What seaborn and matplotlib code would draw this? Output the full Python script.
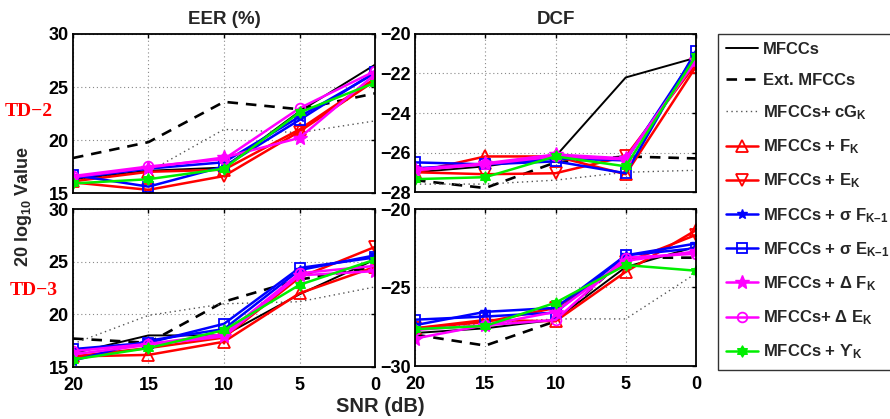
import numpy as np
import pandas as pd
import matplotlib
matplotlib.use("Agg")
import matplotlib.pyplot as plt
from matplotlib.path import Path
import seaborn as sns

snr = [20, 15, 10, 5, 0]

labels = [
    "MFCCs",
    "Ext. MFCCs",
    "MFCCs+ cG$_{K}$",
    "MFCCs + F$_{K}$",
    "MFCCs + E$_{K}$",
    "MFCCs + \u03c3 F$_{K\u20131}$",
    "MFCCs + \u03c3 E$_{K\u20131}$",
    "MFCCs + \u0394 F$_{K}$",
    "MFCCs+ \u0394 E$_{K}$",
    "MFCCs + \u03d2$_{K}$",
]

# EER (%), TD-2
eer_td2_mfcc = [16.3, 17.1, 17.4, 22.7, 27.1]
eer_td2_ext = [18.3, 19.8, 23.6, 22.9, 24.4]
eer_td2_cg = [16.2, 17.0, 21.0, 20.7, 21.8]
eer_td2_f = [16.1, 17.0, 17.2, 21.0, 25.8]
eer_td2_e = [16.0, 15.3, 16.6, 20.8, 25.6]
eer_td2_sf = [16.4, 17.3, 17.9, 22.2, 26.3]
eer_td2_se = [16.7, 15.6, 17.5, 21.9, 26.4]
eer_td2_df = [16.5, 17.4, 18.35, 20.2, 26.2]
eer_td2_de = [16.6, 17.5, 18.2, 23.0, 26.5]
eer_td2_u = [15.9, 16.3, 17.3, 22.6, 25.4]

# EER (%), TD-3
eer_td3_mfcc = [16.3, 18.0, 18.0, 21.9, 25.2]
eer_td3_ext = [17.7, 17.3, 21.2, 23.3, 24.5]
eer_td3_cg = [17.2, 19.9, 21.0, 21.2, 22.6]
eer_td3_f = [16.0, 16.15, 17.4, 22.0, 24.5]
eer_td3_e = [16.0, 16.8, 17.8, 23.5, 26.4]
eer_td3_sf = [15.6, 17.5, 18.6, 24.2, 25.6]
eer_td3_se = [16.7, 17.3, 19.1, 24.4, 25.4]
eer_td3_df = [16.2, 17.1, 17.9, 23.7, 24.1]
eer_td3_de = [16.5, 17.2, 18.1, 23.9, 24.6]
eer_td3_u = [15.7, 16.8, 18.5, 22.8, 25.2]

# DCF, TD-2
dcf_td2_mfcc = [-27.0, -26.7, -26.2, -22.2, -21.2]
dcf_td2_ext = [-27.4, -27.8, -26.5, -26.2, -26.3]
dcf_td2_cg = [-27.6, -27.6, -27.4, -27.0, -26.9]
dcf_td2_f = [-27.0, -26.2, -26.2, -27.1, -21.65]
dcf_td2_e = [-27.0, -27.1, -27.05, -26.2, -21.5]
dcf_td2_sf = [-26.8, -26.6, -26.3, -26.4, -21.0]
dcf_td2_se = [-26.5, -26.6, -26.45, -27.05, -20.85]
dcf_td2_df = [-26.85, -26.55, -26.1, -26.3, -21.3]
dcf_td2_de = [-26.9, -26.6, -26.2, -26.35, -21.35]
dcf_td2_u = [-27.35, -27.25, -26.2, -26.7, -21.1]

# DCF, TD-3
dcf_td3_mfcc = [-27.9, -27.6, -27.05, -23.7, -22.4]
dcf_td3_ext = [-28.0, -28.7, -27.15, -23.1, -23.1]
dcf_td3_cg = [-27.6, -27.3, -27.0, -27.0, -24.1]
dcf_td3_f = [-27.6, -27.07, -27.15, -24.0, -21.35]
dcf_td3_e = [-27.6, -27.2, -26.3, -23.4, -21.65]
dcf_td3_sf = [-27.4, -26.55, -26.3, -22.95, -22.2]
dcf_td3_se = [-27.05, -26.85, -26.6, -22.95, -22.5]
dcf_td3_df = [-28.25, -27.4, -26.55, -23.3, -22.7]
dcf_td3_de = [-27.7, -27.4, -27.07, -23.1, -22.85]
dcf_td3_u = [-27.65, -27.45, -25.97, -23.57, -23.93]

panels = {
    (0, 0): [eer_td2_mfcc, eer_td2_ext, eer_td2_cg, eer_td2_f, eer_td2_e,
             eer_td2_sf, eer_td2_se, eer_td2_df, eer_td2_de, eer_td2_u],
    (1, 0): [eer_td3_mfcc, eer_td3_ext, eer_td3_cg, eer_td3_f, eer_td3_e,
             eer_td3_sf, eer_td3_se, eer_td3_df, eer_td3_de, eer_td3_u],
    (0, 1): [dcf_td2_mfcc, dcf_td2_ext, dcf_td2_cg, dcf_td2_f, dcf_td2_e,
             dcf_td2_sf, dcf_td2_se, dcf_td2_df, dcf_td2_de, dcf_td2_u],
    (1, 1): [dcf_td3_mfcc, dcf_td3_ext, dcf_td3_cg, dcf_td3_f, dcf_td3_e,
             dcf_td3_sf, dcf_td3_se, dcf_td3_df, dcf_td3_de, dcf_td3_u],
}

# hexagram marker
ang_up = np.deg2rad([90, 210, 330, 90])
ang_dn = np.deg2rad([270, 30, 150, 270])
v1 = np.column_stack([np.cos(ang_up), np.sin(ang_up)])
v2 = np.column_stack([np.cos(ang_dn), np.sin(ang_dn)])
codes = [Path.MOVETO, Path.LINETO, Path.LINETO, Path.CLOSEPOLY]
hexagram = Path(np.vstack([v1, v2]), codes + codes)

styles = [
    dict(color="black", ls="-", lw=1.4, marker=None),
    dict(color="black", ls=(0, (4, 3)), lw=1.9, marker=None),
    dict(color="#555555", ls=(0, (1, 2.5)), lw=1.0, marker=None),
    dict(color="#ff0000", ls="-", lw=1.8, marker="^", mfc="none", ms=8, mew=1.3),
    dict(color="#ff0000", ls="-", lw=1.8, marker="v", mfc="none", ms=8, mew=1.3),
    dict(color="#0000ff", ls="-", lw=1.8, marker="*", mfc="#0000ff", ms=7, mew=1.0),
    dict(color="#0000ff", ls="-", lw=1.8, marker="s", mfc="none", ms=6.5, mew=1.3),
    dict(color="#ff00ff", ls="-", lw=1.8, marker="*", mfc="#ff00ff", ms=10, mew=1.0),
    dict(color="#ff00ff", ls="-", lw=1.8, marker="o", mfc="none", ms=7, mew=1.3),
    dict(color="#00ee00", ls="-", lw=1.8, marker=hexagram, mfc="#00ee00", ms=8, mew=1.0),
]

sns.set_style("white")
plt.rcParams["font.family"] = ["Liberation Sans", "DejaVu Sans"]
plt.rcParams["font.weight"] = "bold"
plt.rcParams["mathtext.fontset"] = "custom"
plt.rcParams["mathtext.rm"] = "Liberation Sans:bold"
plt.rcParams["mathtext.it"] = "Liberation Sans:bold"
plt.rcParams["mathtext.bf"] = "Liberation Sans:bold"
plt.rcParams["mathtext.sf"] = "Liberation Sans:bold"
plt.rcParams["mathtext.default"] = "rm"

fig = plt.figure(figsize=(8.9, 4.19), dpi=100)
W, H = 890, 419
def pos(x0, y0, x1, y1):
    return [x0 / W, 1 - y1 / H, (x1 - x0) / W, (y1 - y0) / H]

axes = {
    (0, 0): fig.add_axes(pos(73, 34, 375, 193)),
    (1, 0): fig.add_axes(pos(73, 209, 375, 367)),
    (0, 1): fig.add_axes(pos(415, 34, 696, 192)),
    (1, 1): fig.add_axes(pos(415, 209, 696, 366)),
}

ylims = {(0, 0): (15, 30), (1, 0): (15, 30), (0, 1): (-28, -20), (1, 1): (-30, -20)}
yticks = {(0, 0): [15, 20, 25, 30], (1, 0): [15, 20, 25, 30],
          (0, 1): [-28, -26, -24, -22, -20], (1, 1): [-30, -25, -20]}

for key, ax in axes.items():
    series = panels[key]
    for lab, vals, st in zip(labels, series, styles):
        df = pd.DataFrame({"snr": snr, "val": vals})
        kw = dict(color=st["color"], linestyle=st["ls"], linewidth=st["lw"])
        if st["marker"] is not None:
            kw.update(marker=st["marker"], markerfacecolor=st["mfc"],
                      markeredgecolor=st["color"], markersize=st["ms"],
                      markeredgewidth=st["mew"])
        sns.lineplot(data=df, x="snr", y="val", ax=ax, label=lab, legend=False,
                     errorbar=None, sort=False, **kw)
    ax.set_xlim(20, 0)
    ax.set_ylim(*ylims[key])
    ax.set_xticks(snr)
    ax.set_yticks(yticks[key])
    ax.set_yticklabels([str(t).replace("-", "\u2212") for t in yticks[key]],
                       fontsize=13, fontweight="bold")
    if key[0] == 1:
        ax.set_xticklabels([str(s) for s in snr], fontsize=13, fontweight="bold")
    else:
        ax.set_xticklabels([])
    ax.set_xlabel("")
    ax.set_ylabel("")
    ax.grid(True, color="#888888", linestyle=(0, (1, 2.5)), linewidth=0.8)
    ax.tick_params(axis="y", direction="in", length=3, width=1, right=True,
                   pad=3, colors="black")
    ax.tick_params(axis="x", direction="in", length=3, width=1, top=True,
                   pad=7, colors="black")
    for sp in ax.spines.values():
        sp.set_visible(True)
        sp.set_color("black")
        sp.set_linewidth(1.3)

axes[(0, 0)].set_title("EER (%)", fontsize=13.5, fontweight="bold", pad=7)
axes[(0, 1)].set_title("DCF", fontsize=13.5, fontweight="bold", pad=7)

fig.text(24 / W, 1 - 206 / H, r"20 log$_{10}$ Value", rotation=90, ha="center",
         va="center", fontsize=13, fontweight="bold")
fig.text(380 / W, 1 - 406 / H, "SNR (dB)", ha="center", va="center",
         fontsize=14.5, fontweight="bold")
fig.text(29 / W, 1 - 112 / H, "TD\u22122", ha="center", va="center", color="red",
         fontsize=14, fontweight="bold", family=["Liberation Serif", "DejaVu Serif"])
fig.text(34 / W, 1 - 290 / H, "TD\u22123", ha="center", va="center", color="red",
         fontsize=14, fontweight="bold", family=["Liberation Serif", "DejaVu Serif"])

h, l = axes[(0, 0)].get_legend_handles_labels()
leg = fig.legend(h, l, loc="upper left", bbox_to_anchor=(718 / W, 1 - 34 / H),
                 frameon=True, fancybox=False, edgecolor="black",
                 prop=dict(family=["Liberation Sans", "DejaVu Sans"], size=12,
                           weight="bold"),
                 handlelength=1.9, labelspacing=0.93, borderpad=0.5,
                 handletextpad=0.3, borderaxespad=0)
for t in leg.get_texts():
    t.set_fontweight("bold")
leg.get_frame().set_linewidth(1.0)

fig.savefig("out.png", dpi=100)
